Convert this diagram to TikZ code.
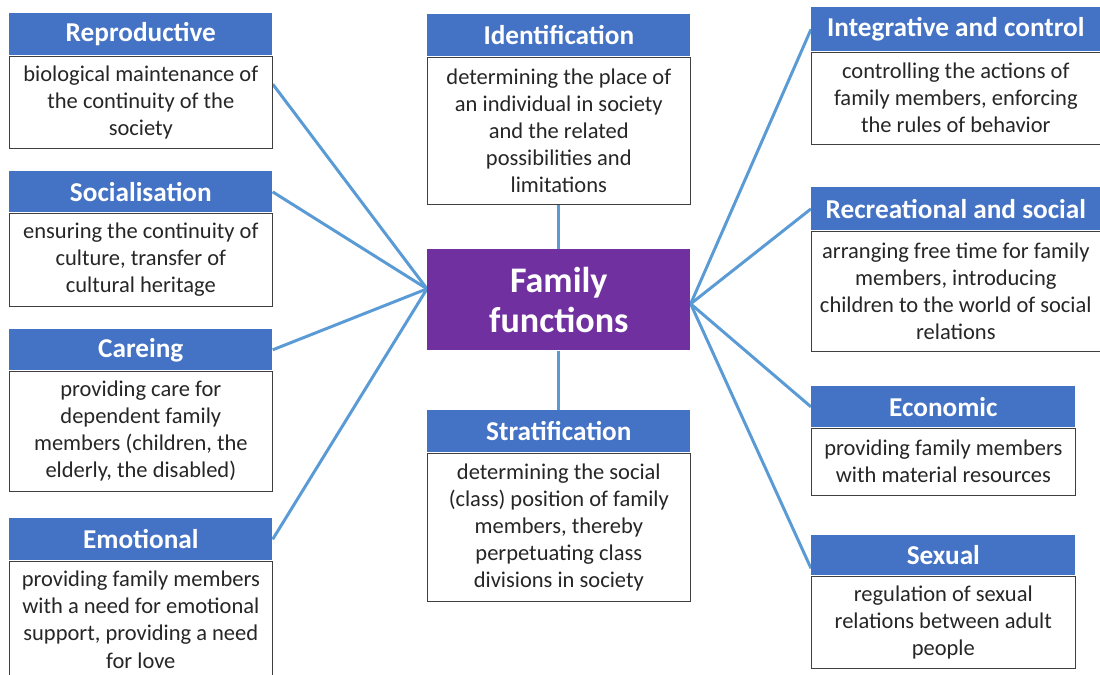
\documentclass[tikz,border=0pt]{standalone}
\usepackage{fontspec}
\setmainfont{Carlito}
\usepackage{tikz}
\usetikzlibrary{positioning}
\usetikzlibrary{backgrounds}
\definecolor{hdrblue}{HTML}{4472C4}
\definecolor{hubpurple}{HTML}{7030A0}
\definecolor{linkblue}{HTML}{5B9BD5}
\definecolor{boxgray}{HTML}{3F3F3F}
\tikzset{hdr/.style={fill=hdrblue,text=white,font=\fontsize{15.5}{18}\selectfont\bfseries,inner sep=0pt,anchor=north west}}
\tikzset{txt/.style={draw=boxgray,line width=0.6pt,fill=white,align=center,inner sep=0pt,text=black!85,font=\fontsize{12.8}{15.4}\selectfont}}
\tikzset{hub/.style={fill=hubpurple,text=white,align=center,inner sep=0pt,font=\fontsize{20.5}{23}\selectfont\bfseries}}
\tikzset{link/.style={draw=linkblue,line width=1.7pt}}

\begin{document}
\begin{tikzpicture}[x=0.02cm,y=-0.02cm]
\useasboundingbox (0,0) rectangle (1100,675);

\foreach \n/\x/\y/\w/\hh/\bh/\t/\b in {
  rep/9/13/5.26/0.84/1.84/{Reproductive}/{biological maintenance of\\the continuity of the\\society},
  soc/9/171/5.26/0.82/1.86/{Socialisation}/{ensuring the continuity of\\culture, transfer of\\cultural heritage},
  car/9/329/5.26/0.82/2.40/{Careing}/{providing care for\\dependent family\\members (children, the\\elderly, the disabled)},
  emo/9/518/5.26/0.84/2.34/{Emotional}/{providing family members\\with a need for emotional\\support, providing a need\\for love},
  ide/427/14/5.26/0.84/2.94/{Identification}/{determining the place of\\an individual in society\\and the related\\possibilities and\\limitations},
  str/427/410/5.26/0.84/2.96/{Stratification}/{determining the social\\(class) position of family\\members, thereby\\perpetuating class\\divisions in society},
  int/811/7/5.78/0.88/1.84/{Integrative and control}/{controlling the actions of\\family members, enforcing\\the rules of behavior},
  rec/811/187/5.78/0.86/2.40/{Recreational and social}/{arranging free time for family\\members, introducing\\children to the world of social\\relations},
  eco/811/386/5.28/0.82/1.34/{Economic}/{providing family members\\with material resources},
  sex/811/535/5.28/0.80/1.84/{Sexual}/{regulation of sexual\\relations between adult\\people}} {
	\node[hdr, minimum width=\w cm, minimum height=\hh cm] (H\n) at (\x,\y) {\t};
	\node[txt, minimum width=\w cm, minimum height=\bh cm, below=0pt of H\n] (B\n) {\b};
	}

\node[hub, minimum width=5.26cm, minimum height=2.02cm, anchor=north west] (hub) at (427,249) {Family\\functions};

\begin{scope}[on background layer]
\draw[link] ([yshift=0.22cm]hub.west) -- ([yshift=0.36cm]Brep.east);
\foreach \n in {soc,car,emo} {
	\draw[link] ([yshift=0.22cm]hub.west) -- (H\n.east);
	}
\foreach \n in {int,rec,eco} {
	\draw[link] ([yshift=-0.08cm]hub.east) -- (H\n.west);
	}
\draw[link] ([yshift=-0.08cm]hub.east) -- ([yshift=-0.26cm]Hsex.west);
\draw[link] (hub.north) -- (Bide.south);
\draw[link] (hub.south) -- (Hstr.north);
\end{scope}
\end{tikzpicture}
\end{document}
